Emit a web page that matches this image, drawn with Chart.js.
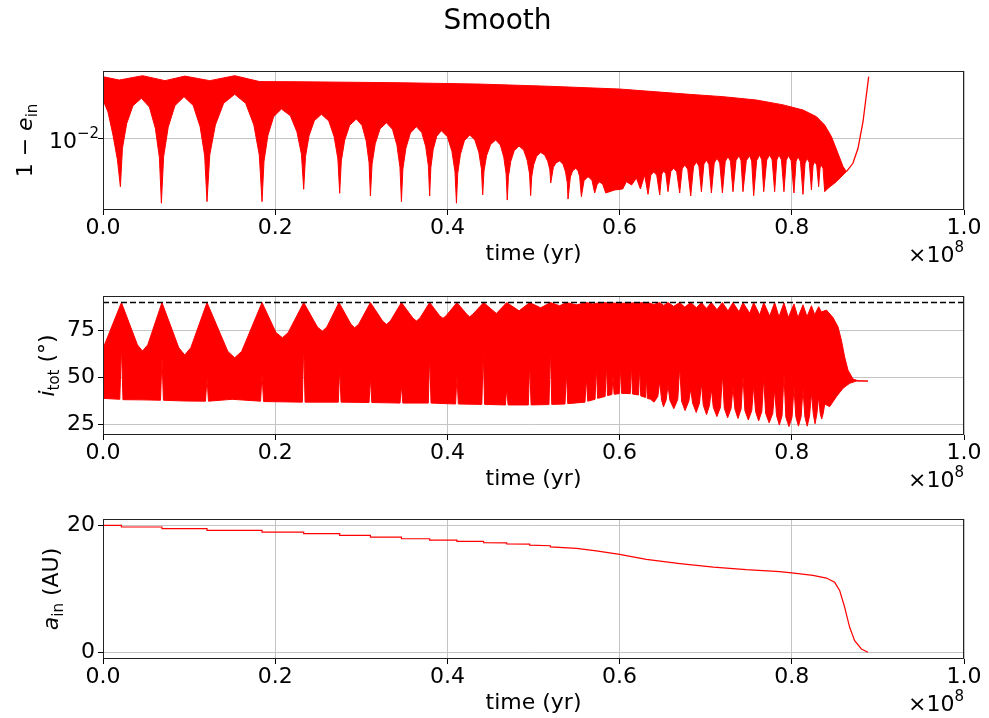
<!DOCTYPE html>
<html>
<head>
<meta charset="utf-8">
<script src="https://cdn.jsdelivr.net/npm/chart.js@4.4.0/dist/chart.umd.min.js"></script>
<style>
  body { margin: 0; background: #fff; }
  #wrap { position: relative; width: 989px; height: 718px; }
  canvas { position: absolute; left: 0; }
</style>
</head>
<body>
<div id="wrap">
  <canvas id="c1" width="989" height="270" style="top:0px"></canvas>
  <canvas id="c2" width="989" height="225" style="top:270px"></canvas>
  <canvas id="c3" width="989" height="223" style="top:495px"></canvas>
</div>
<script>
// time is in units of 1e8 yr (axis shows x10^8)
var timeTicks = [0, 0.2, 0.4, 0.6, 0.8, 1.0];
var eccTicks = [0.01];
var incTicks = [25, 50, 75];
var smaTicks = [0, 20];
var kozaiAngle = 90;

// 1 - e_in : upper / lower envelope of the fast oscillation
var eccUpperTime = [0, 0.019, 0.046, 0.072, 0.095, 0.124, 0.153, 0.182, 0.228, 0.345, 0.437, 0.519, 0.600, 0.681, 0.720, 0.759, 0.790, 0.813, 0.8286, 0.8382, 0.846, 0.8537, 0.8595, 0.8634];
var eccUpper = [0.0345, 0.0323, 0.0352, 0.0319, 0.0349, 0.0319, 0.0352, 0.0313, 0.0312, 0.0306, 0.0298, 0.0285, 0.0270, 0.0243, 0.0232, 0.0217, 0.0197, 0.0178, 0.0156, 0.0132, 0.0105, 0.0075, 0.0058, 0.00522];

var eccLowerTime = [0, 0.0058, 0.0116, 0.0168, 0.0202, 0.0226, 0.0275, 0.0348, 0.0446, 0.0539, 0.0608, 0.0655, 0.0678,
  0.0704, 0.0757, 0.0836, 0.0941, 0.1048, 0.1128, 0.1181, 0.1208, 0.1240, 0.1305, 0.1401, 0.1530, 0.1657, 0.1752, 0.1815, 0.1847,
  0.1870, 0.1915, 0.1982, 0.2072, 0.2176, 0.2253, 0.2305, 0.2331, 0.2352, 0.2393, 0.2455, 0.2537, 0.2622, 0.2685, 0.2728, 0.2749,
  0.2768, 0.2807, 0.2865, 0.2943, 0.3008, 0.3057, 0.3090, 0.3106, 0.3125, 0.3162, 0.3218, 0.3292, 0.3362, 0.3414, 0.3449, 0.3466,
  0.3483, 0.3518, 0.3570, 0.3640, 0.3702, 0.3748, 0.3779, 0.3794, 0.3808, 0.3835, 0.3876, 0.3930, 0.4000, 0.4053, 0.4088, 0.4105,
  0.4120, 0.4151, 0.4197, 0.4259, 0.4319, 0.4365, 0.4395, 0.4410, 0.4425, 0.4455, 0.4501, 0.4561, 0.4615, 0.4655, 0.4682, 0.4695,
  0.4709, 0.4736, 0.4777, 0.4832, 0.4886, 0.4927, 0.4954, 0.4967, 0.4979, 0.5002, 0.5037, 0.5084, 0.5130, 0.5165, 0.5190, 0.5200,
  0.5231, 0.5262, 0.5304, 0.5343, 0.5372, 0.5392, 0.5401, 0.5428, 0.5454, 0.5490, 0.5516, 0.5536, 0.5556, 0.5587, 0.5633, 0.5678,
  0.5711, 0.5740, 0.5769, 0.5804, 0.5839, 0.5943, 0.6036, 0.6079, 0.6140, 0.6195, 0.6242, 0.6291, 0.6330, 0.6363, 0.6396, 0.6431,
  0.6466, 0.6489, 0.6512, 0.6537, 0.6562, 0.6595, 0.6628, 0.6663, 0.6698, 0.6727, 0.6756, 0.6791, 0.6826, 0.6859, 0.6892, 0.6921,
  0.6950, 0.6979, 0.7008, 0.7037, 0.7066, 0.7099, 0.7131, 0.7163, 0.7194, 0.7227, 0.7259, 0.7288, 0.7317, 0.7352, 0.7387, 0.7410,
  0.7433, 0.7472, 0.7511, 0.7534, 0.7557, 0.7592, 0.7627, 0.7651, 0.7674, 0.7709, 0.7743, 0.7772, 0.7801, 0.7826, 0.7851, 0.7880,
  0.7909, 0.7935, 0.7960, 0.7993, 0.8025, 0.8049, 0.8072, 0.8101, 0.8130, 0.8154, 0.8177, 0.8203, 0.8228, 0.8247, 0.8266, 0.8289,
  0.8312, 0.8328, 0.8344, 0.8363, 0.8382, 0.8420, 0.8518, 0.8595, 0.8634];
var eccLower = [0.0217, 0.01711, 0.01083, 0.00659, 0.00387, 0.00833, 0.01358, 0.01939, 0.02246, 0.01885, 0.01237, 0.00692, 0.00279,
  0.00702, 0.01264, 0.01943, 0.02318, 0.01946, 0.01277, 0.00715, 0.00288, 0.00729, 0.01321, 0.02033, 0.02431, 0.02033, 0.01321, 0.00729, 0.00288,
  0.00642, 0.01072, 0.01558, 0.01815, 0.01589, 0.01149, 0.00738, 0.00368, 0.00705, 0.01066, 0.01441, 0.01634, 0.01433, 0.01043, 0.00673, 0.00340,
  0.00647, 0.00976, 0.01316, 0.01488, 0.01310, 0.00961, 0.00628, 0.00322, 0.00608, 0.00911, 0.01225, 0.01382, 0.01213, 0.00882, 0.00570, 0.00288,
  0.00551, 0.00833, 0.01127, 0.01277, 0.01138, 0.00862, 0.00587, 0.00322, 0.00568, 0.00813, 0.01057, 0.01179, 0.01045, 0.00780, 0.00523, 0.00279,
  0.00504, 0.00735, 0.00967, 0.01083, 0.00980, 0.00769, 0.00553, 0.00329, 0.00529, 0.00718, 0.00895, 0.00980, 0.00888, 0.00696, 0.00501, 0.00297,
  0.00475, 0.00641, 0.00796, 0.00870, 0.00802, 0.00656, 0.00500, 0.00325, 0.00472, 0.00599, 0.00712, 0.00765, 0.00728, 0.00643, 0.00543, 0.00417,
  0.00570, 0.00623, 0.00646, 0.00606, 0.00520, 0.00422, 0.00303, 0.00469, 0.00530, 0.00559, 0.00533, 0.00475, 0.00318, 0.00437, 0.00473, 0.00443,
  0.00342, 0.00407, 0.00425, 0.00407, 0.00342, 0.00363, 0.00370, 0.00428, 0.00401, 0.00460, 0.00370, 0.00489, 0.00333, 0.00489, 0.00519, 0.00488,
  0.00329, 0.00497, 0.00529, 0.00501, 0.00351, 0.00524, 0.00559, 0.00522, 0.00342, 0.00553, 0.00596, 0.00549, 0.00322, 0.00578, 0.00633, 0.00585,
  0.00351, 0.00606, 0.00659, 0.00602, 0.00342, 0.00621, 0.00681, 0.00621, 0.00342, 0.00638, 0.00704, 0.00641, 0.00351, 0.00652, 0.00718, 0.00652,
  0.00351, 0.00652, 0.00718, 0.00644, 0.00324, 0.00652, 0.00728, 0.00660, 0.00351, 0.00660, 0.00728, 0.00660, 0.00351, 0.00660, 0.00728, 0.00660,
  0.00351, 0.00651, 0.00718, 0.00649, 0.00342, 0.00638, 0.00704, 0.00637, 0.00333, 0.00618, 0.00681, 0.00627, 0.00363, 0.00590, 0.00637, 0.00596,
  0.00387, 0.00563, 0.00596, 0.00555, 0.00351, 0.00375, 0.00428, 0.00489, 0.00522];

var eccTailTime = [0.8634, 0.8710, 0.8769, 0.8827, 0.8866, 0.8893];
var eccTail = [0.00522, 0.00617, 0.00831, 0.0141, 0.0240, 0.0345];

// i_tot (deg) : upper / lower envelope
var incUpperTime = [0, 0.0214, 0.040, 0.0458, 0.052, 0.0685, 0.088, 0.0949, 0.102, 0.1208, 0.145, 0.153, 0.161, 0.1847,
  0.201, 0.2084, 0.215, 0.2331, 0.249, 0.2548, 0.260, 0.2741, 0.288, 0.2923, 0.297, 0.3106, 0.325, 0.3292, 0.3335, 0.3466,
  0.360, 0.364, 0.368, 0.3794, 0.391, 0.3949, 0.3985, 0.4111, 0.4225, 0.4259, 0.4295, 0.4421, 0.4569, 0.4689, 0.4832, 0.4956,
  0.5084, 0.5196, 0.5304, 0.5382, 0.5498, 0.5614, 0.569, 0.578, 0.600, 0.633, 0.6396, 0.6466, 0.6512, 0.6562, 0.6628, 0.6698,
  0.6756, 0.6826, 0.6892, 0.6950, 0.7008, 0.7066, 0.7131, 0.7194, 0.7259, 0.7317, 0.7387, 0.7433, 0.7511, 0.7557, 0.7627, 0.7674,
  0.7743, 0.7801, 0.7851, 0.7909, 0.7960, 0.8025, 0.8072, 0.8130, 0.8177, 0.8228, 0.8266, 0.8312, 0.8344, 0.8402, 0.8479, 0.8537,
  0.8576, 0.8614, 0.8653, 0.8711, 0.8769, 0.8885];
var incUpper = [65.6, 90, 67.5, 64.2, 67.5, 90, 66, 62.1, 66, 90, 64, 60.6, 64, 90,
  74, 71.3, 74, 90, 77, 74.8, 77, 90, 78.5, 76.6, 78.5, 90, 80, 78.4, 80, 90,
  81.7, 80.2, 81.7, 90, 83, 81.6, 83, 90, 83.8, 82.4, 83.8, 90, 84.2, 90, 85.6, 90,
  87.2, 90, 88.3, 90, 88.8, 90, 89.3, 90, 89.6, 90, 89.0, 90, 88.5, 90, 88.0, 90,
  87.6, 90, 87.3, 90, 86.9, 90, 86.2, 90, 85.6, 90, 85.1, 90, 84.3, 90, 83.4, 90,
  82.8, 90, 82.4, 89.8, 82.0, 89.3, 82.0, 88.8, 82.5, 88.3, 83.5, 87.8, 85, 86, 82, 77,
  70, 61, 54, 49.3, 48.4, 48.2];

var incLowerTime = [0, 0.0195, 0.0214, 0.0232, 0.045, 0.0668, 0.0685, 0.0702, 0.095, 0.1190, 0.1208, 0.1225, 0.150,
  0.1830, 0.1847, 0.1865, 0.2315, 0.2331, 0.2347, 0.2733, 0.2749, 0.2765, 0.3090, 0.3106, 0.3122, 0.3450, 0.3466, 0.3482,
  0.3778, 0.3794, 0.3810, 0.4095, 0.4111, 0.4127, 0.4400, 0.4416, 0.4432, 0.4673, 0.4689, 0.4705, 0.4940, 0.4956, 0.4972,
  0.5180, 0.5196, 0.5212, 0.5366, 0.5382, 0.5398, 0.5598, 0.5614, 0.5630, 0.5715, 0.5730, 0.5745, 0.5832, 0.5847, 0.5860,
  0.5910, 0.5923, 0.5936, 0.5996, 0.6009, 0.6022, 0.6124, 0.6137, 0.6150, 0.6220, 0.6233, 0.6246, 0.6300, 0.6311, 0.6322,
  0.6360, 0.6400, 0.6444, 0.6466, 0.6488, 0.6510, 0.6540, 0.6562, 0.6584, 0.6630, 0.6676, 0.6698, 0.6720, 0.6760, 0.6804,
  0.6826, 0.6848, 0.6890, 0.6928, 0.6950, 0.6972, 0.7010, 0.7044, 0.7066, 0.7088, 0.7130, 0.7172, 0.7194, 0.7216, 0.7255,
  0.7295, 0.7317, 0.7339, 0.7375, 0.7411, 0.7433, 0.7455, 0.7495, 0.7535, 0.7557, 0.7579, 0.7615, 0.7652, 0.7674, 0.7696,
  0.7737, 0.7779, 0.7801, 0.7823, 0.7855, 0.7887, 0.7909, 0.7931, 0.7967, 0.8003, 0.8025, 0.8047, 0.8077, 0.8108, 0.8130,
  0.8152, 0.8179, 0.8206, 0.8228, 0.8250, 0.8270, 0.8292, 0.8312, 0.8330, 0.8347, 0.8365, 0.8382, 0.8440, 0.8518, 0.8595,
  0.8672, 0.8750, 0.8885];
var incLower = [39.0, 38.5, 67, 38.3, 38.2, 38.0, 61, 38.0, 37.6, 37.5, 50, 37.5, 38.5,
  37.5, 52, 37.3, 37.0, 68, 37.0, 37.0, 55, 37.0, 36.8, 50, 36.8, 36.5, 46, 36.5,
  36.5, 62, 36.5, 36.0, 51, 36.0, 35.8, 64, 35.8, 35.5, 44, 35.5, 35.5, 58, 35.5,
  35.7, 66, 35.8, 36.0, 53, 36.2, 37.0, 50, 37.5, 38.5, 56, 39.0, 40.0, 57, 40.5,
  41.0, 51, 41.2, 41.5, 56, 41.7, 41.5, 57, 41.3, 40.8, 56, 40.3, 39.5, 50, 39.0,
  38.5, 37.0, 40, 48, 38, 34.5, 38, 46, 38, 33.5, 38.5, 56, 37.5, 32.5, 37.5,
  44, 36.5, 31.5, 36.5, 47, 35.3, 30.3, 35.3, 44, 34.3, 29.3, 34.3, 52, 33.7, 28.7,
  33.7, 45, 33.3, 28.3, 33.3, 51, 32.5, 27.5, 32.5, 46, 32, 27, 32, 50, 31,
  26, 31, 44, 29.8, 24.8, 29.8, 52, 29, 24, 29, 45, 29.2, 24.2, 29.2, 44,
  29.2, 24.2, 29.5, 42, 30.5, 25.5, 31, 40, 31, 28, 31, 36, 34.6, 39.9, 44.4,
  47.0, 48.2, 48.2];

// a_in (AU)
var smaTime = [0, 0.0214, 0.0214, 0.0685, 0.0685, 0.1208, 0.1208, 0.1847, 0.1847, 0.2331, 0.2331, 0.2749, 0.2749,
  0.3106, 0.3106, 0.3466, 0.3466, 0.3794, 0.3794, 0.4111, 0.4111, 0.4421, 0.4421, 0.4689, 0.4689, 0.4956, 0.4956,
  0.5196, 0.5196, 0.5500, 0.5730, 0.6000, 0.6311, 0.6700, 0.7090, 0.7470, 0.7860, 0.8000, 0.8246, 0.8402, 0.8498,
  0.8556, 0.8614, 0.8672, 0.8730, 0.8808, 0.8885];
var sma = [20.0, 20.0, 19.74, 19.74, 19.48, 19.48, 19.21, 19.21, 18.95, 18.95, 18.69, 18.69, 18.43,
  18.43, 18.16, 18.16, 17.90, 17.90, 17.69, 17.69, 17.48, 17.48, 17.30, 17.25, 17.10, 17.05, 16.88,
  16.80, 16.62, 16.38, 15.98, 15.45, 14.65, 14.00, 13.45, 13.03, 12.74, 12.52, 12.13, 11.72, 11.05,
  9.76, 7.13, 3.98, 1.89, 0.58, 0.05];

function pts(ts, vs) {
  return ts.map(function (t, i) { return { x: t, y: vs[i] }; });
}

Chart.defaults.font.family = 'DejaVu Sans';
Chart.defaults.color = '#000';

var RED = '#ff0000';
var SUB = '15px "DejaVu Sans"';
var REG = '22px "DejaVu Sans"';
var ITA = 'italic 22px "DejaVu Sans"';

// frame, rotated y label with subscript, x10^8 offset text, 10^-2 tick label
var decor = {
  id: 'decor',
  afterDraw: function (chart, args, opts) {
    var ctx = chart.ctx, a = chart.chartArea;
    ctx.save();
    ctx.strokeStyle = '#222';
    ctx.lineWidth = 1;
    var l = Math.round(a.left) + 0.5, t = Math.round(a.top) + 0.5;
    var r = Math.round(a.right) - 0.5, b = Math.round(a.bottom) - 0.5;
    ctx.strokeRect(l, t, r - l, b - t);

    ctx.fillStyle = '#000';
    ctx.textBaseline = 'alphabetic';
    ctx.textAlign = 'left';
    var w = 0;
    opts.label.forEach(function (p) { ctx.font = p.font; p.w = ctx.measureText(p.text).width; w += p.w; });
    ctx.translate(opts.labelX, (a.top + a.bottom) / 2);
    ctx.rotate(-Math.PI / 2);
    var x = -w / 2;
    opts.label.forEach(function (p) { ctx.font = p.font; ctx.fillText(p.text, x, p.dy || 0); x += p.w; });
    ctx.restore();

    ctx.save();
    ctx.fillStyle = '#000';
    ctx.textBaseline = 'alphabetic';
    ctx.font = REG;
    var w1 = ctx.measureText('\u00d710').width;
    ctx.font = SUB;
    var w2 = ctx.measureText('8').width;
    var x0 = a.right - w1 - w2;
    ctx.font = REG;
    ctx.fillText('\u00d710', x0, a.bottom + 51.5);
    ctx.font = SUB;
    ctx.fillText('8', x0 + w1, a.bottom + 42);

    if (opts.sciTicks) {
      var ys = chart.scales.y;
      opts.sciTicks.forEach(function (tk) {
        var py = ys.getPixelForValue(tk.value);
        ctx.font = SUB;
        var we = ctx.measureText(tk.exp).width;
        ctx.font = REG;
        var wb = ctx.measureText(tk.base).width;
        var xr = a.left - 4;
        ctx.fillText(tk.base, xr - we - wb, py + 9);
        ctx.font = SUB;
        ctx.fillText(tk.exp, xr - we, py - 1);
      });
    }
    ctx.restore();
  }
};

function xScale(titlePad) {
  return {
    type: 'linear', min: 0, max: 1,
    afterBuildTicks: function (s) { s.ticks = timeTicks.map(function (v) { return { value: v }; }); },
    afterFit: function (s) { s.height = titlePad.h; },
    ticks: { font: { size: 22 }, padding: 0, maxRotation: 0, callback: function (v) { return Number(v).toFixed(1); } },
    grid: { color: '#c4c4c4', lineWidth: 1, tickLength: 5, tickColor: '#000', tickWidth: 1 },
    border: { display: false },
    title: { display: true, text: 'time (yr)', font: { size: 22 }, padding: { top: 0, bottom: titlePad.b } }
  };
}

function yScale(width, extra) {
  var s = {
    afterFit: function (sc) { sc.width = width; },
    grid: { color: '#c4c4c4', lineWidth: 1, tickLength: 5, tickColor: '#000', tickWidth: 1 },
    border: { display: false },
    ticks: { font: { size: 22 }, padding: 3 }
  };
  for (var k in extra) s[k] = extra[k];
  return s;
}

var common = {
  responsive: false,
  animation: false,
  devicePixelRatio: 1,
  elements: { point: { radius: 0 }, line: { tension: 0 } },
  events: []
};

// panel 1 : 1 - e_in
new Chart(document.getElementById('c1'), {
  type: 'line',
  data: {
    datasets: [
      { data: pts(eccUpperTime, eccUpper), borderColor: RED, backgroundColor: RED, borderWidth: 1, fill: '+1' },
      { data: pts(eccLowerTime, eccLower), borderColor: RED, backgroundColor: RED, borderWidth: 1, fill: false },
      { data: pts(eccTailTime, eccTail), borderColor: RED, borderWidth: 1.3, fill: false }
    ]
  },
  options: Object.assign({}, common, {
    layout: { padding: { left: 31, right: 25, top: 0, bottom: 0 } },
    scales: {
      x: xScale({ h: 60, b: 3 }),
      y: yScale(72, {
        type: 'logarithmic', min: 0.002438, max: 0.03864,
        afterBuildTicks: function (s) { s.ticks = eccTicks.map(function (v) { return { value: v }; }); },
        ticks: { font: { size: 22 }, padding: 2, callback: function () { return ''; } }
      })
    },
    plugins: {
      legend: { display: false },
      tooltip: { enabled: false },
      title: { display: true, text: 'Smooth', font: { size: 28, weight: 'normal' }, color: '#000', padding: { top: 5, bottom: 32.4 } },
      decor: {
        labelX: 32,
        label: [{ text: '1 \u2212 ', font: REG }, { text: 'e', font: ITA }, { text: 'in', font: SUB, dy: 5 }],
        sciTicks: eccTicks.map(function (v) { return { value: v, base: '10', exp: '\u2212' + String(-Math.round(Math.log10(v))) }; })
      }
    }
  }),
  plugins: [decor]
});

// panel 2 : i_tot
new Chart(document.getElementById('c2'), {
  type: 'line',
  data: {
    datasets: [
      { data: pts([0, 1], [kozaiAngle, kozaiAngle]), borderColor: '#000', borderWidth: 1.4, borderDash: [6, 3], fill: false },
      { data: pts(incUpperTime, incUpper), borderColor: RED, backgroundColor: RED, borderWidth: 1, fill: '+1' },
      { data: pts(incLowerTime, incLower), borderColor: RED, backgroundColor: RED, borderWidth: 1, fill: false }
    ]
  },
  options: Object.assign({}, common, {
    layout: { padding: { left: 0, right: 25, top: 26, bottom: 0 } },
    scales: {
      x: xScale({ h: 60, b: 3 }),
      y: yScale(103, {
        type: 'linear', min: 19.5, max: 93.5,
        afterBuildTicks: function (s) { s.ticks = incTicks.map(function (v) { return { value: v }; }); }
      })
    },
    plugins: {
      legend: { display: false },
      tooltip: { enabled: false },
      decor: { labelX: 54, label: [{ text: 'i', font: ITA }, { text: 'tot', font: SUB, dy: 5 }, { text: ' (\u00b0)', font: REG }] }
    }
  }),
  plugins: [decor]
});

// panel 3 : a_in
new Chart(document.getElementById('c3'), {
  type: 'line',
  data: {
    datasets: [
      { data: pts(smaTime, sma), borderColor: RED, borderWidth: 1.2, fill: false }
    ]
  },
  options: Object.assign({}, common, {
    layout: { padding: { left: 0, right: 25, top: 24, bottom: 0 } },
    scales: {
      x: xScale({ h: 59, b: 1.5 }),
      y: yScale(103, {
        type: 'linear', min: -1.0, max: 21.0,
        afterBuildTicks: function (s) { s.ticks = smaTicks.map(function (v) { return { value: v }; }); }
      })
    },
    plugins: {
      legend: { display: false },
      tooltip: { enabled: false },
      decor: { labelX: 58, label: [{ text: 'a', font: ITA }, { text: 'in', font: SUB, dy: 5 }, { text: ' (AU)', font: REG }] }
    }
  }),
  plugins: [decor]
});
</script>
</body>
</html>
